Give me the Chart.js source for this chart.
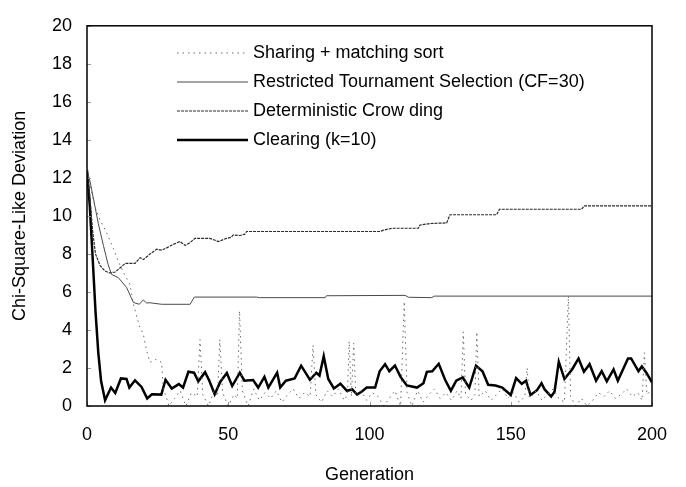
<!DOCTYPE html>
<html>
<head>
<meta charset="utf-8">
<script src="https://cdn.jsdelivr.net/npm/chart.js@4.4.1/dist/chart.umd.min.js"></script>
<style>
  html, body { margin: 0; padding: 0; background: #fff; }
  #wrap { width: 686px; height: 487px; position: relative; }
</style>
</head>
<body>
<div id="wrap"><canvas id="chart" width="686" height="487"></canvas></div>
<script>
const seriesLabels = [
  'Sharing + matching sort',
  'Restricted Tournament Selection (CF=30)',
  'Determ inistic Crow ding',
  'Clearing (k=10)'
];
seriesLabels[2] = 'Deterministic Crow ding';

const xTicks = [0, 50, 100, 150, 200];
const yTicks = [0, 2, 4, 6, 8, 10, 12, 14, 16, 18, 20];

// Sharing + matching sort (dotted)
const sharingGen = [0, 1.5, 3, 4.6, 7, 9.3, 11.1, 13, 15.2, 16.4, 17.6, 18.8, 19.9, 21.1, 22.3, 24.3, 26.4,
  27, 28, 29, 31, 33, 35, 37, 39, 40, 41, 43, 45, 46.2, 47, 48, 50, 52, 53.2, 54, 55, 57, 59, 61, 63, 65,
  67, 69, 71, 73, 75, 77, 79, 80, 81, 83, 85, 87, 89, 91, 92.2, 92.8, 93.6, 94.4, 95.2, 97, 99, 101, 103,
  105, 107, 109, 111, 112.3, 113.3, 115, 117, 119, 121, 123, 125, 127, 129, 131, 132.4, 133.2, 134, 136,
  137.3, 138, 138.8, 141, 143, 145, 147, 149, 151, 153, 155, 155.8, 156.6, 159, 161, 163, 165, 167, 169,
  170.4, 171.2, 173, 175, 177, 179, 181, 183, 185, 187, 189, 191, 193, 195, 196.5, 197.3, 198.2, 200];
const sharingVal = [12.4, 11.3, 10.4, 9.8, 9.1, 8.3, 7.6, 7.0, 6.4, 5.4, 4.7, 4.1, 3.8, 2.9, 2.3, 2.45, 2.3,
  0.9, 0.5, 0.0, 0.4, 0.8, 0.0, 0.7, 0.5, 3.5, 0.6, 0.0, 0.8, 0.5, 3.5, 0.7, 0.0, 0.6, 0.4, 5.0, 0.8, 0.0,
  0.9, 0.3, 0.7, 0.4, 0.8, 0.2, 0.6, 0.9, 0.4, 0.7, 0.5, 3.2, 0.6, 0.2, 0.8, 0.5, 0.9, 0.3, 0.6, 3.4, 0.5,
  3.3, 0.5, 0.8, 0.3, 0.7, 0.5, 0.0, 0.4, 0.8, 0.0, 5.5, 0.7, 0.0, 0.8, 0.2, 0.6, 0.9, 0.4, 0.7, 0.3, 0.8,
  0.4, 3.9, 0.6, 0.3, 0.6, 3.9, 0.5, 0.8, 0.3, 0.6, 0.9, 0.4, 0.7, 0.2, 0.5, 2.0, 0.4, 0.8, 0.3, 0.6, 0.9,
  0.4, 0.2, 5.8, 0.5, 0.0, 0.4, 0.0, 0.3, 0.7, 0.5, 0.8, 0.4, 0.6, 0.9, 0.5, 0.7, 0.3, 2.8, 0.6, 0.9];

// Restricted Tournament Selection (thin solid)
const rtsGen = [0, 1.1, 4, 5.8, 7.5, 8.7, 11.1, 14, 16.4, 18.5, 19.9, 21.1, 22.3, 26.4, 36.5, 38, 60, 61,
  84.3, 84.8, 112.6, 113.8, 122, 123, 200];
const rtsVal = [12.4, 11.8, 9.6, 8.45, 7.43, 6.92, 6.75, 6.24, 5.45, 5.35, 5.58, 5.42, 5.43, 5.35, 5.35,
  5.73, 5.73, 5.7, 5.7, 5.8, 5.82, 5.72, 5.7, 5.78, 5.78];

// Deterministic Crowding (fine dashed)
const dcGen = [0, 1, 2, 3, 4.6, 6.4, 8, 10, 12, 13.5, 17, 18.8, 20, 22.3, 24.7, 26.4, 28, 30.5, 32.9, 34.7,
  36.5, 38.2, 43.5, 46.5, 49.4, 51, 51.8, 54.2, 55.9, 56.5, 103.7, 105, 107.9, 117.3, 117.9, 121.5, 127.3,
  128.5, 145, 146, 175.1, 176, 200];
const dcVal = [12.4, 11.0, 9.2, 8.0, 7.4, 7.1, 7.0, 7.05, 7.3, 7.5, 7.5, 7.8, 7.7, 8.0, 8.25, 8.2, 8.3, 8.5,
  8.65, 8.45, 8.6, 8.82, 8.82, 8.65, 8.82, 8.87, 9.0, 8.97, 9.04, 9.18, 9.18, 9.25, 9.35, 9.35, 9.52, 9.6,
  9.63, 10.06, 10.06, 10.35, 10.35, 10.53, 10.53];

// Clearing (k=10) (thick black)
const clearGen = [0, 1, 2, 3, 4, 5, 6.4, 8.5, 10, 12, 14, 15, 17, 19.3, 21.3, 23, 26.3, 27.8, 30, 32.5, 34,
  35.9, 37.9, 39.4, 41.8, 43.3, 45.2, 47.2, 49.5, 51.4, 54.1, 55.7, 58.8, 60.6, 62.8, 64.2, 67.3, 68.4,
  70.4, 73.5, 75.8, 78.9, 81.2, 82.3, 83.8, 85.4, 87.4, 89.7, 92, 93.9, 95.6, 97.4, 99, 102, 103.6, 105.5,
  107, 109, 111, 113.2, 116.8, 119.1, 120.3, 122.2, 124.5, 126.8, 128.8, 130.7, 133, 135.3, 137.7, 140,
  142, 144.6, 147, 150, 151.9, 153.9, 155.4, 157, 159.3, 160.9, 162, 164.3, 165.5, 167, 169, 171.7, 174,
  175.9, 177.9, 180.2, 182.2, 184, 186.4, 187.9, 191.5, 192.6, 195.2, 196.4, 198, 200];
const clearVal = [12.4, 10.5, 7.8, 5.0, 2.8, 1.3, 0.3, 0.97, 0.68, 1.45, 1.42, 0.97, 1.35, 1.0, 0.4, 0.62,
  0.6, 1.38, 0.92, 1.15, 0.97, 1.8, 1.75, 1.3, 1.78, 1.33, 0.62, 1.28, 1.73, 1.05, 1.75, 1.33, 1.37, 0.97,
  1.53, 0.97, 1.75, 0.97, 1.33, 1.45, 2.12, 1.38, 1.75, 1.6, 2.62, 1.42, 0.92, 1.17, 0.8, 0.87, 0.6, 0.78,
  0.97, 0.97, 1.83, 2.2, 1.83, 2.13, 1.53, 1.08, 0.97, 1.2, 1.8, 1.83, 2.22, 1.37, 0.8, 1.33, 1.5, 0.97,
  2.12, 1.83, 1.12, 1.08, 0.97, 0.58, 1.47, 1.17, 1.33, 0.58, 0.83, 1.2, 0.87, 0.5, 0.75, 2.33, 1.42, 1.92,
  2.5, 1.8, 2.2, 1.33, 1.83, 1.3, 1.92, 1.33, 2.5, 2.5, 1.83, 2.08, 1.75, 1.25];

const FONT = "'Liberation Sans', Arial, Helvetica, sans-serif";

function pts(gens, vals) {
  return gens.map((g, i) => ({ x: g, y: vals[i] }));
}

const styles = [
  { color: '#6a6a6a', width: 1, dash: [1.5, 4] },
  { color: '#4a4a4a', width: 1, dash: [] },
  { color: '#2a2a2a', width: 1.2, dash: [3, 1] },
  { color: '#000000', width: 2.5, dash: [] }
];

const seriesData = [
  pts(sharingGen, sharingVal),
  pts(rtsGen, rtsVal),
  pts(dcGen, dcVal),
  pts(clearGen, clearVal)
];

const datasets = seriesLabels.map((lbl, i) => ({
  label: lbl,
  data: seriesData[i],
  borderColor: styles[i].color,
  borderWidth: styles[i].width,
  borderDash: styles[i].dash,
  pointRadius: 0,
  tension: 0,
  fill: false
}));

// legend inside the plot, box around the plot, tiny inner tick marks
const framePlugin = {
  id: 'frame',
  afterDatasetsDraw(chart) {
    const { ctx, chartArea: a, scales } = chart;
    ctx.save();
    ctx.strokeStyle = '#999';
    ctx.lineWidth = 1;
    yTicks.forEach((v) => {
      const y = Math.round(scales.y.getPixelForValue(v)) + 0.5;
      ctx.beginPath(); ctx.moveTo(a.left, y); ctx.lineTo(a.left + 4, y); ctx.stroke();
    });
    xTicks.forEach((v) => {
      const x = Math.round(scales.x.getPixelForValue(v)) + 0.5;
      ctx.beginPath(); ctx.moveTo(x, a.bottom); ctx.lineTo(x, a.bottom - 4); ctx.stroke();
    });
    ctx.strokeStyle = '#000';
    ctx.lineWidth = 1.5;
    ctx.strokeRect(a.left, a.top, a.right - a.left, a.bottom - a.top);

    const lx0 = 177, lx1 = 248, tx = 253, y0 = 53, dy = 29;
    ctx.font = '18px ' + FONT;
    ctx.textBaseline = 'middle';
    ctx.fillStyle = '#000';
    datasets.forEach((ds, i) => {
      const y = y0 + i * dy;
      ctx.save();
      ctx.strokeStyle = ds.borderColor;
      ctx.lineWidth = ds.borderWidth;
      ctx.setLineDash(ds.borderDash);
      ctx.beginPath(); ctx.moveTo(lx0, y); ctx.lineTo(lx1, y); ctx.stroke();
      ctx.restore();
      ctx.fillText(ds.label, tx, y);
    });
    ctx.restore();
  }
};

const ctx = document.getElementById('chart').getContext('2d');
new Chart(ctx, {
  type: 'line',
  data: { datasets },
  options: {
    responsive: false,
    animation: false,
    layout: { padding: { top: 13, right: 34, left: 0, bottom: 0 } },
    plugins: { legend: { display: false }, tooltip: { enabled: false } },
    scales: {
      x: {
        type: 'linear', min: 0, max: 200,
        afterBuildTicks: (s) => { s.ticks = xTicks.map((v) => ({ value: v })); },
        afterFit: (s) => { s.height = 81; },
        grid: { display: false, drawTicks: false },
        border: { display: false },
        ticks: { color: '#000', font: { size: 18, family: FONT }, padding: 18, maxRotation: 0 },
        title: { display: true, text: 'Generation', color: '#000', font: { size: 18, family: FONT },
                 padding: { top: 0, bottom: 1 } }
      },
      y: {
        min: 0, max: 20,
        afterBuildTicks: (s) => { s.ticks = yTicks.map((v) => ({ value: v })); },
        afterFit: (s) => { s.width = 87; },
        grid: { display: false, drawTicks: false },
        border: { display: false },
        ticks: { color: '#000', font: { size: 18, family: FONT }, padding: 15 },
        title: { display: true, text: 'Chi-Square-Like Deviation', color: '#000',
                 font: { size: 18, family: FONT }, padding: { top: 9, bottom: 0 } }
      }
    }
  },
  plugins: [framePlugin]
});
</script>
</body>
</html>
